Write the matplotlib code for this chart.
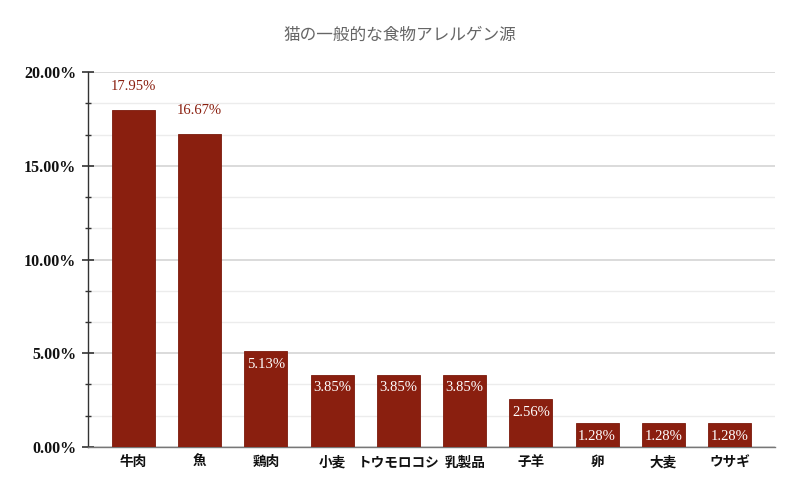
import matplotlib
matplotlib.use("Agg")
import matplotlib.pyplot as plt
from matplotlib.ticker import MultipleLocator, FuncFormatter

categories = ["牛肉", "魚", "鶏肉", "小麦", "トウモロコシ", "乳製品", "子羊", "卵", "大麦", "ウサギ"]
values = [17.95, 16.67, 5.13, 3.85, 3.85, 3.85, 2.56, 1.28, 1.28, 1.28]
title = "猫の一般的な食物アレルゲン源"

bar_color = "#8a1f0f"
serif = ["Liberation Serif", "DejaVu Serif"]
cjk = ["Noto Sans CJK JP", "DejaVu Sans"]

fig = plt.figure(figsize=(8, 4.95), dpi=100)
ax = fig.add_axes([0.11, 0.097, 0.85875, 0.7575])

x = list(range(len(categories)))
bars = ax.bar(x, values, width=0.65, color=bar_color, edgecolor="#7a1a0c", linewidth=0.6, zorder=3)

ax.set_xlim(-0.687, len(categories) - 1 + 0.687)
ax.set_ylim(0, 20)
ax.yaxis.set_major_locator(MultipleLocator(5))
ax.yaxis.set_minor_locator(MultipleLocator(5 / 3))
ax.yaxis.set_major_formatter(FuncFormatter(lambda v, p: f"{v:.2f}%"))

ax.grid(axis="y", which="major", color="#dadada", linewidth=1.4, zorder=0)
ax.grid(axis="y", which="minor", color="#ececec", linewidth=1.0, zorder=0)
ax.grid(axis="x", visible=False)

for s in ["top", "right"]:
    ax.spines[s].set_visible(False)
ax.spines["left"].set_color("#333333")
ax.spines["left"].set_linewidth(1.0)
ax.spines["bottom"].set_color("#777777")
ax.spines["bottom"].set_linewidth(1.0)

ax.tick_params(axis="y", which="major", direction="inout", length=9, width=1.2, color="#333333", pad=4)
ax.tick_params(axis="y", which="minor", direction="inout", length=5, width=1.0, color="#333333")
ax.tick_params(axis="x", length=0, pad=6)

for lab in ax.get_yticklabels():
    lab.set_fontfamily(serif)
    lab.set_fontweight("bold")
    lab.set_fontsize(11.5)
    lab.set_color("#111111")

ax.set_xticks(x)
ax.set_xticklabels(categories, fontfamily=cjk, fontsize=9.8, fontweight="bold", color="#111111")

for xi, v in zip(x, values):
    if v > 10:
        ax.annotate(f"{v:.2f}%", (xi, v), xytext=(0, 17.5), textcoords="offset points",
                    ha="center", va="center", fontfamily=serif, fontsize=10.5,
                    color="#8a1f0f", zorder=4)
    else:
        ax.annotate(f"{v:.2f}%", (xi, v), xytext=(0, -9.5), textcoords="offset points",
                    ha="center", va="center", fontfamily=serif, fontsize=10.5,
                    color="white", zorder=4)

fig.text(0.5, 1 - 35 / 495, title, ha="center", va="center", fontfamily=cjk,
         fontsize=12, color="#666666")

fig.savefig("out.png", dpi=100)
